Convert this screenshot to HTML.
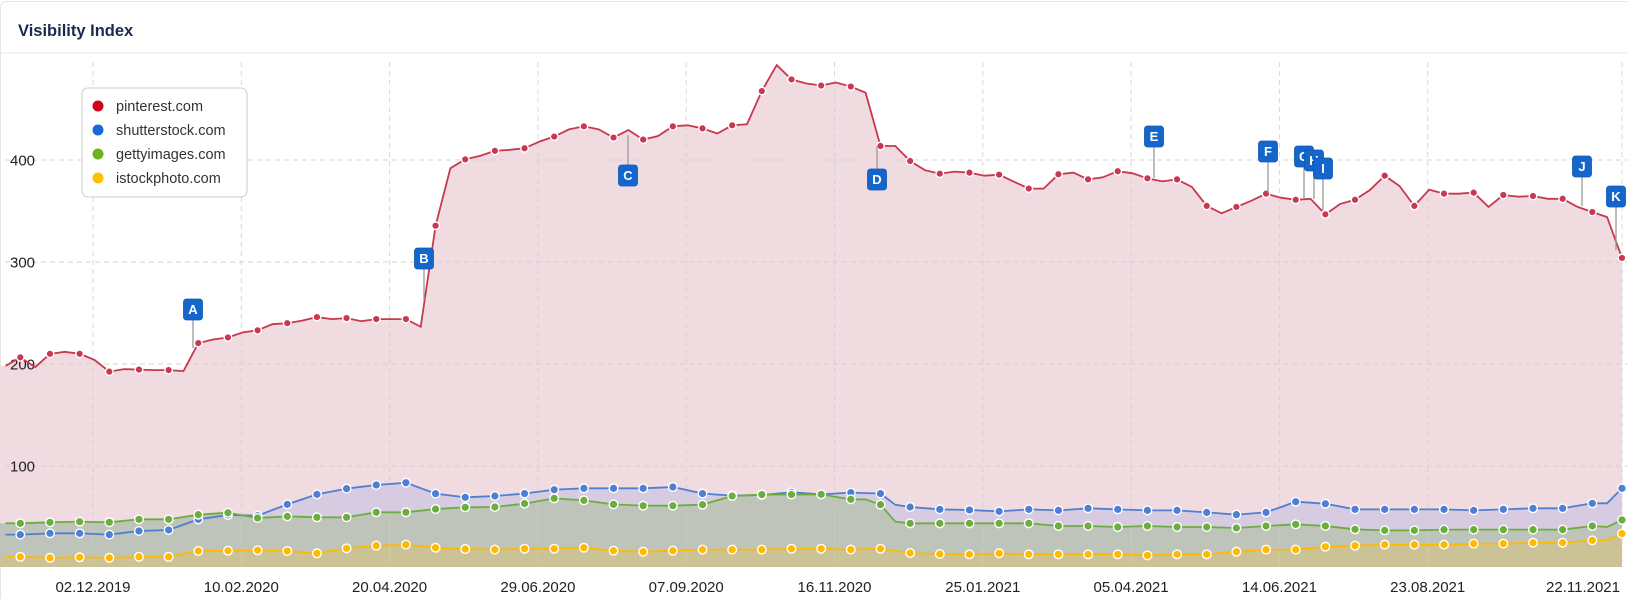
<!DOCTYPE html>
<html><head><meta charset="utf-8">
<style>
body{margin:0;background:#fff;font-family:"Liberation Sans",Arial,sans-serif;}
#wrap{position:relative;width:1627px;height:599px;overflow:hidden;background:#fff;}
</style></head>
<body><div id="wrap">
<svg id="s" width="1627" height="599" xmlns="http://www.w3.org/2000/svg" style="position:absolute;left:0;top:0">
<rect x="0.5" y="1.5" width="1640" height="620" rx="6" fill="#fff" stroke="#e6e6e6"/>
<text x="18" y="36" font-family="Liberation Sans, Arial, sans-serif" font-size="16.5" font-weight="bold" fill="#1b2a4e">Visibility Index</text>
<line x1="0" y1="53" x2="1627" y2="53" stroke="#e8e8e8" stroke-width="1"/>
<g id="g"></g>
</svg>
</div>
<script>
const NS="http://www.w3.org/2000/svg";
const g=document.getElementById('g');
function el(t,a,txt){const e=document.createElementNS(NS,t);for(const k in a)e.setAttribute(k,a[k]);if(txt!==undefined)e.textContent=txt;g.appendChild(e);return e;}
const X=k=>5.5+14.83*k, Y=v=>568-1.02*v, B=567;
const P=[198,206.5,197,210,212,210,204,192.5,195,194.5,
194,194,193,220.5,224,226,231,233,239,240,
242.5,246,244,245,242,244,244,244,236.5,335.6,
392,400.6,404,409,410,411.5,418,423,430,433,
430,422,429.4,420,423.5,433,434,431,426,434,
435,467.6,493,479,475,473,476,472,466,413.7,
413.7,399,390,386.6,388.6,387.6,384.6,385.6,378.7,372,
372,386,387.6,381,383,389,387,382,379,381,
373.5,355,347.7,354,360,367,363,361,362,346.7,
357,361,370.6,384.6,374.5,355,371,367,367,368,
354,365.7,364,364.7,362,362,354,349,344,304];
function expand(odd,ov){const a=[];for(let k=0;k<110;k++){if(k%2)a.push(odd[(k-1)/2]);else if(k==0)a.push(odd[0]);else a.push((odd[k/2-1]+odd[k/2])/2);}if(ov)for(const k in ov)a[k]=ov[k];return a;}
const Bl=expand([32.7,34,34,32.7,36.3,37.3,47.7,52,51.3,62.4,72.2,77.8,81.4,83.6,72.9,69.3,70.6,73,76.8,78.1,78.1,78.1,79.4,73,71,71.6,74.2,72.2,73.9,73,59.8,57.5,56.9,55.5,57.5,56.5,58.5,57.5,56.5,56.5,54.5,52.3,54.5,65,63,57.5,57.5,57.5,57.5,56.5,57.5,58.5,58.5,63.4,78.1],{60:62,108:63.4});
const Gr=expand([43.8,44.8,45.4,44.8,47.7,47.7,52.3,54.2,49,50.6,49.7,49.7,54.6,54.6,57.8,59.5,59.8,63.1,68.3,66.3,62.4,61.1,61.1,62.1,70.6,72,72,72.2,67.3,62.1,43.8,43.8,43.8,43.8,43.8,41.2,41.2,40.2,41.2,40.2,40.2,39.2,41.2,42.8,41.2,37.9,36.9,36.9,37.6,37.6,37.6,37.6,37.6,41.2,47.1],{58:67.3,60:45.4,108:40.2});
const Ye=expand([11,10,10.5,10,11,11,16.7,17,17.4,16.7,14.4,19.3,21.9,22.9,19.9,18.6,18,18.9,18.9,19.9,17,16,17,18,18,18,18.9,18.9,18,18.9,14.7,13.7,13.4,14.4,13.4,13.4,13.4,13.4,12.4,13.4,13.4,16,18,18,20.9,21.9,22.9,22.9,22.9,23.9,23.9,24.8,24.8,27.1,33.7],{108:27.1});
function line(a){return a.map((v,k)=>(k?'L':'M')+X(k).toFixed(1)+','+Y(v).toFixed(1)).join('');}
function area(a,fill){el('path',{d:'M0,'+Y(a[0]).toFixed(1)+line(a).replace('M','L')+'L'+X(109)+','+B+'L0,'+B+'Z',fill:fill});}
area(P,'#f0dbe0');area(Bl,'#d6cbe0');area(Gr,'#bfc4ba');area(Ye,'#cbc396');
// grid
const gx=[];for(let i=0;i<10;i++)gx.push(93+148.3*i);gx.push(1622);
gx.forEach(x=>el('line',{x1:x,y1:62,x2:x,y2:B,stroke:'#cfcfcf','stroke-dasharray':'5,4','stroke-width':1,opacity:0.8}));
[100,200,300,400].forEach(v=>{el('line',{x1:5,y1:Y(v),x2:1627,y2:Y(v),stroke:'#cfcfcf','stroke-dasharray':'5,4','stroke-width':1,opacity:0.9});
el('text',{x:10,y:Y(v)+5.5,'font-size':15,fill:'#222','font-family':'Liberation Sans, Arial, sans-serif'},String(v));});
// series lines
const S=[[P,'#c8384f',3.8,'#c8384f'],[Bl,'#4f7fd4',4.3,'#4f7fd4'],[Gr,'#6cae3e',4.3,'#6cae3e'],[Ye,'#ffb900',4.3,'#ffb900']];
S.forEach(([a,c])=>el('path',{d:line(a),fill:'none',stroke:c,'stroke-width':1.8}));
S.forEach(([a,c,r])=>{for(let k=1;k<110;k+=2)el('circle',{cx:X(k),cy:Y(a[k]),r:r,fill:c,stroke:'#fff','stroke-width':1.4});});
// markers
const M=[['A',193,299,348],['B',424,248,300],['C',628,165,135],['D',877,169,146],['E',1154,126,178],['F',1268,141,193],['G',1304,146,198],['H',1314,150,199],['I',1323,158,210],['J',1582,156,206],['K',1616,186,250]];
M.forEach(([t,x,y,py])=>{const bot=y+21;el('line',{x1:x,y1:Math.min(bot,py),x2:x,y2:Math.max(bot,py),stroke:'#999','stroke-width':1.3});});
M.forEach(([t,x,y])=>{el('rect',{x:x-9.5,y:y,width:19,height:21,rx:3,fill:'#1466cc',stroke:'#0f55ad','stroke-width':0.8});
el('text',{x:x,y:y+15,'text-anchor':'middle','font-size':13,'font-weight':'bold',fill:'#fff','font-family':'Liberation Sans, Arial, sans-serif'},t);});
// x labels
const L=['02.12.2019','10.02.2020','20.04.2020','29.06.2020','07.09.2020','16.11.2020','25.01.2021','05.04.2021','14.06.2021','23.08.2021'];
L.forEach((t,i)=>el('text',{x:gx[i],y:592,'text-anchor':'middle','font-size':15,fill:'#222','font-family':'Liberation Sans, Arial, sans-serif'},t));
el('text',{x:1620,y:592,'text-anchor':'end','font-size':15,fill:'#222','font-family':'Liberation Sans, Arial, sans-serif'},'22.11.2021');
// legend
el('rect',{x:82,y:88,width:165,height:109,rx:6,fill:'#fff',stroke:'#cccccc','stroke-width':1});
[['pinterest.com','#d0021b'],['shutterstock.com','#1a6ad6'],['gettyimages.com','#6db31b'],['istockphoto.com','#ffc000']].forEach(([t,c],i)=>{
el('circle',{cx:98,cy:106+24*i,r:5.5,fill:c});
el('text',{x:116,y:111+24*i,'font-size':14.5,fill:'#333','font-family':'Liberation Sans, Arial, sans-serif'},t);});
</script>
</body></html>
